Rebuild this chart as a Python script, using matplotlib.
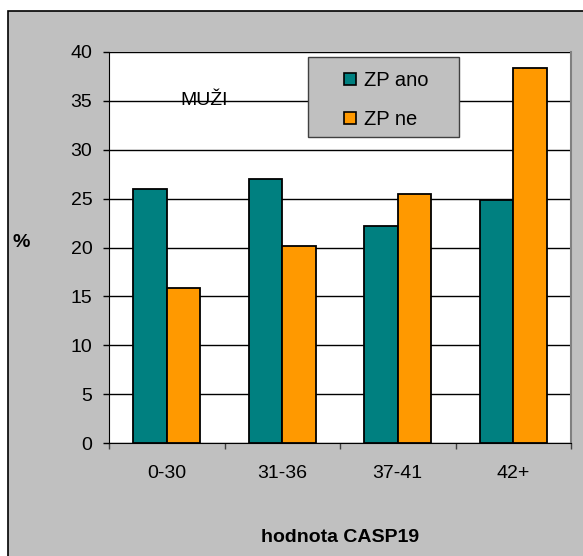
import matplotlib
matplotlib.use("Agg")
import matplotlib.pyplot as plt
from matplotlib.patches import Rectangle, Patch
import numpy as np

plt.rcParams['font.family'] = ['Liberation Sans', 'DejaVu Sans']

categories = ["0-30", "31-36", "37-41", "42+"]
zp_ano = [26.0, 27.0, 22.2, 24.9]
zp_ne = [15.9, 20.2, 25.5, 38.4]
series_names = ["ZP ano", "ZP ne"]
y_ticks = [0, 5, 10, 15, 20, 25, 30, 35, 40]

TEAL = "#008080"
ORANGE = "#FF9900"
GRAY = "#C0C0C0"

W, H = 583, 556
fig = plt.figure(figsize=(W / 100, H / 100), dpi=100, facecolor="white")

# grey chart area with a black border (left and top edges visible)
fig.patches.append(Rectangle((8 / W, -0.2), 1.3, 1.2 - 11 / H,
                             transform=fig.transFigure, facecolor=GRAY,
                             edgecolor="black", linewidth=1.2, zorder=-1))

ax_l, ax_r, ax_t, ax_b = 109, 571, 52, 443
ax = fig.add_axes([ax_l / W, 1 - ax_b / H, (ax_r - ax_l) / W, (ax_b - ax_t) / H])
ax.set_zorder(1)
ax.set_facecolor("white")

x = np.arange(len(categories))
bw = 0.29
ax.bar(x - bw / 2, zp_ano, bw, color=TEAL, edgecolor="black", linewidth=1.3,
       label=series_names[0], zorder=3)
ax.bar(x + bw / 2, zp_ne, bw, color=ORANGE, edgecolor="black", linewidth=1.3,
       label=series_names[1], zorder=3)

ax.set_xlim(-0.5, len(categories) - 0.5)
ax.set_ylim(0, 40)
ax.set_yticks(y_ticks)
ax.set_yticklabels([str(v) for v in y_ticks])
ax.yaxis.grid(True, color="black", linewidth=1.0, zorder=1)
ax.set_axisbelow(True)

ax.set_xticks(x)
ax.set_xticklabels(categories)
ax.set_xticks(np.arange(-0.5, len(categories)), minor=True)
ax.tick_params(axis="x", which="major", length=0, pad=16, labelsize=14)
ax.tick_params(axis="x", which="minor", length=4, width=1, direction="out", color="#404040")
ax.tick_params(axis="y", length=4, width=1, direction="out", pad=8, labelsize=14)

ax.spines["top"].set_visible(False)
ax.spines["left"].set_color("black")
ax.spines["bottom"].set_color("black")
ax.spines["right"].set_color("#808080")
ax.spines["right"].set_linewidth(1.5)

ax.text(0.115, 35, "MUŽI", fontsize=14, ha="left", va="center", zorder=2)

# legend box drawn separately so its padding can be wider than tall
leg_box = Rectangle((308 / W, 1 - 137 / H), (459 - 308) / W, (137 - 57) / H,
                    transform=fig.transFigure, facecolor=GRAY, edgecolor="#404040",
                    linewidth=1.0, zorder=4)
fig.patches.append(leg_box)

handles = [Patch(facecolor=TEAL, edgecolor="black", linewidth=1.2),
           Patch(facecolor=ORANGE, edgecolor="black", linewidth=1.2)]
leg = fig.legend(handles, series_names, loc="upper left",
                 bbox_to_anchor=(344 / W, 1 - 71 / H), bbox_transform=fig.transFigure,
                 fontsize=14.5, frameon=False, handlelength=0.6,
                 handleheight=0.6, handletextpad=0.4, labelspacing=1.0,
                 borderpad=0, borderaxespad=0)
leg.set_zorder(5)

fig.text(21 / W, 1 - 243 / H, "%", fontsize=14, fontweight="bold", ha="center", va="center")
fig.text(340 / W, 1 - 538 / H, "hodnota CASP19", fontsize=14, fontweight="bold",
         ha="center", va="center")

fig.savefig("out.png", dpi=100, facecolor="white")
